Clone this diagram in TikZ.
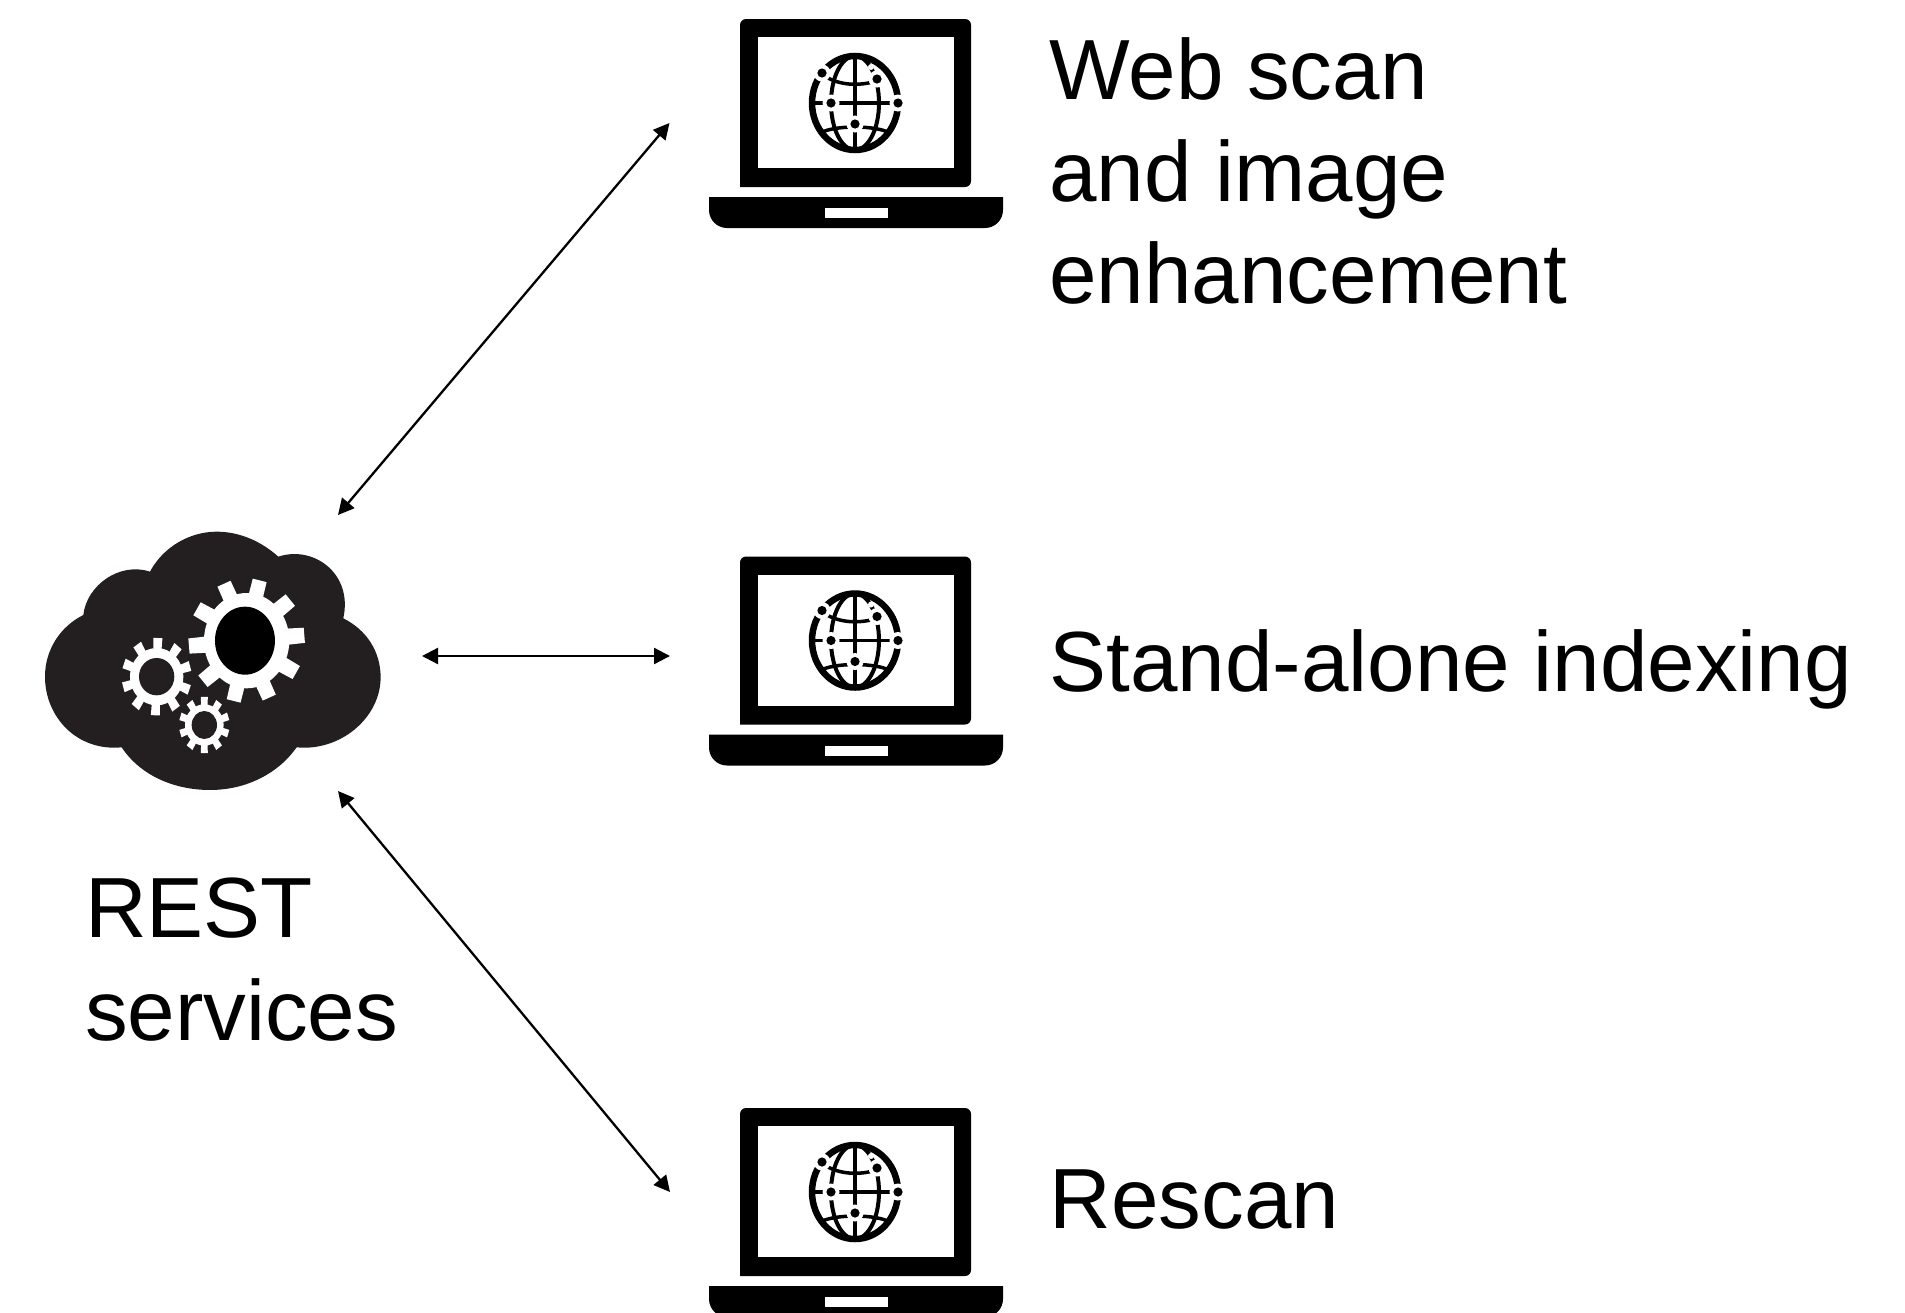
\documentclass[tikz,border=0pt]{standalone}
\usepackage{fontspec}
\setmainfont{Liberation Sans}
\usetikzlibrary{arrows.meta}
\definecolor{cloudblack}{HTML}{231F20}
\tikzset{
  x=1pt,y=-1pt,
  label text/.style={inner sep=0pt,outer sep=0pt,align=left,font=\fontsize{85.4}{102}\selectfont,text=black},
  link/.style={line width=2.3pt,{Triangle[length=16pt,width=16pt]}-{Triangle[length=16pt,width=16pt]}},
  pics/laptop/.style={code={
    % origin = globe centre
    \fill[black,rounded corners=6pt] (-115,84) -- (-115,-84) -- (116,-84) -- (116,84) [sharp corners] -- cycle;
    \fill[white] (-97.5,-66) rectangle (99,65);
    \fill[black] (-146,94) -- (148,94) -- (148,107) arc[start angle=0,end angle=90,radius=18] -- (-128,125) arc[start angle=90,end angle=180,radius=18] -- cycle;
    \fill[white] (-30,105) rectangle (33,115);
    % globe
    \draw[line width=4pt] (0,0) circle[x radius=24,y radius=47];
    \draw[line width=3.5pt] (0,-47) -- (0,47);
    \draw[line width=3.2pt] (-44,0) -- (44,0);
    \draw[line width=3.5pt] (-27,-25) .. controls (-12,-17) and (8,-17) .. (24,-23);
    \draw[line width=3.5pt] (-35,30) .. controls (-20,22) and (20,22) .. (35,30);
    \draw[line width=6.5pt] (0,0) circle[x radius=43,y radius=47];
    \foreach \dx/\dy in {-33/-30,22/-24,-24/0,43/0,0/21}{
      \fill[white] (\dx,\dy) circle[radius=8.5];
    }
    \fill[white] (16,-36) circle[radius=3];
    \foreach \dx/\dy in {-33/-30,22/-24,-24/0,43/0,0/21}{
      \fill[black] (\dx,\dy) circle[radius=4.6];
    }
  }}
}
% #1 centre x, #2 centre y, #3 tip rx, #4 tip ry, #5 body rx, #6 body ry, #7 first tooth angle, #8 half-width at base, #9 half-width at tip (degrees)
\newcommand{\cloudgear}[9]{
  \fill[white] (#1,#2) circle[x radius=#5,y radius=#6];
  \foreach \k in {0,...,9}{
    \pgfmathsetmacro{\ang}{#7+36*\k}
    \fill[white,shift={(#1,#2)}]
      ({(#5-3)*cos(\ang-#8)},{(#6-3)*sin(\ang-#8)}) --
      ({#3*cos(\ang-#9)},{#4*sin(\ang-#9)}) --
      ({#3*cos(\ang+#9)},{#4*sin(\ang+#9)}) --
      ({(#5-3)*cos(\ang+#8)},{(#6-3)*sin(\ang+#8)}) -- cycle;
  }
}
\begin{document}
\begin{tikzpicture}
\path[use as bounding box] (0,0) rectangle (1905,1312);
\clip (0,0) rectangle (1905,1312);
% cloud, drawn in 3x crop coordinates
\begin{scope}[shift={(20,510)},x=0.3333pt,y=-0.3333pt]
  \fill[cloudblack] (190,315)
    .. controls (200,225) and (300,155) .. (390,185)
    .. controls (430,110) and (510,65) .. (590,65)
    .. controls (660,65) and (725,95) .. (775,140)
    .. controls (880,105) and (1000,190) .. (970,325)
    .. controls (1040,360) and (1083,425) .. (1082,505)
    .. controls (1080,625) and (960,725) .. (830,712)
    .. controls (775,790) and (680,840) .. (570,840)
    .. controls (460,840) and (360,795) .. (305,712)
    .. controls (170,725) and (75,620) .. (75,500)
    .. controls (75,420) and (120,350) .. (190,315) -- cycle;
  \cloudgear{680}{392}{175}{187}{128}{143}{-5}{10}{7}
  \fill[black] (675,392) circle[x radius=90,y radius=102];
  \cloudgear{410}{500}{105}{117}{80}{86}{-88}{9}{7.5}
  \fill[cloudblack] (410,500) circle[x radius=53,y radius=56];
  \cloudgear{553}{645}{76}{85}{58}{62}{-90}{10}{8}
  \fill[cloudblack] (553,645) circle[x radius=38,y radius=42];
\end{scope}
\coordinate (cloudUp) at (338,515);
\coordinate (cloudMid) at (422,656);
\coordinate (cloudDown) at (338,791);
\coordinate (lapTopEnd) at (669.5,123);
\coordinate (lapMidEnd) at (670,656);
\coordinate (lapLowEnd) at (670,1192);
\pic (lapTop) at (855,103) {laptop};
\pic (lapMid) at (855,640.5) {laptop};
\pic (lapLow) at (855,1192) {laptop};
\draw[link] (cloudUp) -- (lapTopEnd);
\draw[link] (cloudMid) -- (lapMidEnd);
\draw[link] (cloudDown) -- (lapLowEnd);
\node[label text,anchor=base west] (tWeb) at (1049.5,99) {Web scan};
\node[label text,anchor=base west] (tAnd) at (1049.5,201.5) {and image};
\node[label text,anchor=base west] (tEnh) at (1049.5,303) {enhancement};
\node[label text,anchor=base west] (tStand) at (1049.5,691) {Stand-alone indexing};
\node[label text,anchor=base west] (tRescan) at (1049.5,1228.5) {Rescan};
\node[label text,anchor=base west] (tRest) at (85,937) {REST};
\node[label text,anchor=base west] (tServ) at (85,1040) {services};
\end{tikzpicture}
\end{document}
